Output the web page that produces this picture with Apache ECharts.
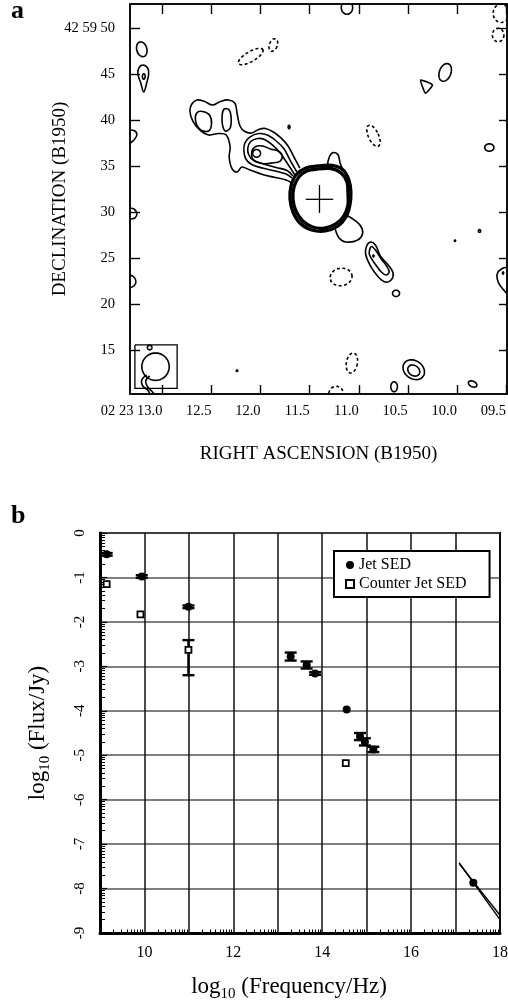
<!DOCTYPE html>
<html>
<head>
<meta charset="utf-8">
<script src="https://cdn.jsdelivr.net/npm/echarts@6.0.0/dist/echarts.min.js"></script>
<style>
  html, body { margin: 0; padding: 0; background: #fff; }
  #chart { width: 508px; height: 1005px; }
</style>
</head>
<body>
<div id="chart"></div>
<script>
  // ---- panel a : radio map, RA in seconds (02 23 xx), Dec in arcsec (42 59 xx)
  const raTicks = [13.0, 12.5, 12.0, 11.5, 11.0, 10.5, 10.0, 9.5];
  const decTicks = [15, 20, 25, 30, 35, 40, 45, 50];

  // closed contours [ra, dec]
  const teardrop = [[13.20, 46.01], [13.15, 45.68], [13.14, 45.03], [13.16, 44.05], [13.19, 43.07], [13.22, 44.05], [13.25, 45.03], [13.24, 45.68]];
  const triangle = [[10.37, 44.38], [10.25, 43.84], [10.32, 42.93]];
  const knotOuter = [[10.92, 26.34], [10.88, 26.77], [10.83, 26.45], [10.78, 25.25], [10.70, 24.27], [10.65, 23.40], [10.67, 22.64], [10.73, 22.42], [10.80, 22.97], [10.88, 24.16], [10.93, 25.47]];
  const knotInner = [[10.89, 25.90], [10.87, 26.28], [10.83, 25.90], [10.77, 24.92], [10.71, 24.05], [10.69, 23.51], [10.72, 23.19], [10.77, 23.51], [10.84, 24.49], [10.89, 25.36]];
  const leftBlob = [[12.65, 40.79], [12.59, 40.96], [12.52, 40.57], [12.50, 39.60], [12.53, 38.84], [12.61, 38.95], [12.66, 39.81]];
  const rightBlob = [[12.37, 41.23], [12.32, 41.12], [12.30, 40.25], [12.31, 39.16], [12.36, 38.84], [12.39, 39.60], [12.39, 40.68]];
  const jetKnot = [[12.09, 36.55], [12.05, 37.15], [11.98, 37.21], [11.90, 36.88], [11.82, 36.66], [11.78, 36.23], [11.80, 35.57], [11.88, 35.36], [11.98, 35.30], [12.07, 35.68]];
  const coreOuter = [[11.42, 35.03], [11.27, 35.09], [11.16, 34.60], [11.10, 33.51], [11.08, 32.21], [11.09, 30.79], [11.13, 29.49], [11.21, 28.51], [11.34, 27.97], [11.48, 28.08], [11.60, 28.84], [11.67, 30.03], [11.70, 31.44], [11.69, 32.86], [11.64, 34.05], [11.54, 34.81]];
  const coreInner = [[11.42, 34.71], [11.28, 34.76], [11.18, 34.27], [11.12, 33.29], [11.11, 32.10], [11.11, 30.79], [11.15, 29.65], [11.23, 28.78], [11.35, 28.29], [11.47, 28.40], [11.57, 29.05], [11.64, 30.14], [11.67, 31.44], [11.66, 32.75], [11.61, 33.84], [11.53, 34.49]];

  // open contours (ending on the core or on the map edge)
  const jetEnvelope = [[11.60, 34.81], [11.66, 36.01], [11.72, 37.21], [11.79, 38.07], [11.87, 38.73], [11.95, 39.11], [12.02, 39.00], [12.09, 38.62], [12.16, 38.78], [12.21, 39.38], [12.24, 40.79], [12.26, 41.82], [12.33, 42.21], [12.41, 42.04], [12.49, 41.66], [12.57, 42.04], [12.65, 42.21], [12.70, 41.77], [12.72, 41.01], [12.69, 39.92], [12.62, 38.95], [12.53, 38.40], [12.43, 38.56], [12.35, 38.40], [12.31, 37.10], [12.32, 36.01], [12.29, 34.71], [12.24, 34.38], [12.19, 34.92], [12.11, 34.60], [11.98, 34.11], [11.85, 33.78], [11.74, 33.51], [11.68, 33.18]];
  const jetMid = [[11.63, 34.38], [11.70, 35.68], [11.76, 36.88], [11.84, 37.75], [11.93, 38.40], [12.02, 38.56], [12.11, 38.18], [12.16, 37.53], [12.17, 36.66], [12.15, 35.79], [12.09, 35.19], [11.98, 34.81], [11.85, 34.49], [11.74, 34.16], [11.68, 33.73]];
  const jetIn = [[11.65, 34.05], [11.73, 35.36], [11.80, 36.44], [11.88, 37.32], [11.96, 37.91], [12.03, 38.02], [12.10, 37.69], [12.13, 36.99], [12.12, 36.23], [12.07, 35.63], [11.97, 35.25], [11.84, 34.87], [11.73, 34.54], [11.67, 33.94]];
  const coreBump = [[11.32, 35.03], [11.30, 36.01], [11.26, 36.50], [11.21, 36.23], [11.19, 35.36], [11.16, 34.60]];
  const coreLobe = [[11.11, 29.60], [11.03, 29.05], [10.98, 28.51], [10.96, 27.75], [11.01, 26.99], [11.13, 26.77], [11.20, 27.21], [11.24, 28.18]];
  const edgeLeft1 = [[13.34, 37.42], [13.29, 37.86], [13.26, 38.40], [13.28, 38.84], [13.34, 38.95]];
  const edgeLeft2 = [[13.34, 30.47], [13.29, 30.36], [13.26, 29.92], [13.28, 29.38], [13.34, 29.27]];
  const edgeLeft3 = [[13.34, 23.19], [13.29, 22.97], [13.27, 22.42], [13.29, 21.99], [13.34, 21.77]];
  const edgeRight = [[9.47, 24.05], [9.54, 23.89], [9.59, 23.29], [9.58, 22.42], [9.54, 21.77], [9.47, 20.90]];
  const swirl1 = [[13.16, 12.32], [13.21, 11.77], [13.20, 11.12], [13.15, 10.68], [13.12, 10.10]];
  const swirl2 = [[13.13, 12.21], [13.17, 11.66], [13.15, 11.01], [13.11, 10.57], [13.07, 10.10]];

  // beam box and core cross
  const beamBox = [[13.28, 15.58], [12.85, 15.58], [12.85, 10.87], [13.28, 10.87], [13.28, 15.58]];
  const crossH = [[11.54, 31.41], [11.26, 31.41]];
  const crossV = [[11.40, 32.97], [11.40, 29.92]];

  // small blobs: [ra, dec, x radius ("), y radius ("), tilt (deg)]
  const ovalsSolid = [
    [13.21, 47.72, 0.55, 0.82, 15], [13.19, 44.76, 0.15, 0.30, 0], [11.12, 52.25, 0.62, 0.72, 0],
    [10.12, 45.20, 0.63, 1.00, -20], [9.67, 37.04, 0.50, 0.40, 0], [11.71, 39.27, 0.10, 0.18, 0],
    [12.04, 36.41, 0.42, 0.42, 0], [10.85, 25.25, 0.06, 0.10, 0], [10.62, 21.19, 0.38, 0.34, 0],
    [10.44, 12.89, 1.25, 0.98, -35], [10.44, 12.80, 0.70, 0.55, -35], [10.64, 11.04, 0.36, 0.54, 0],
    [9.84, 11.34, 0.49, 0.30, -25], [13.07, 13.22, 1.49, 1.49, 0], [13.13, 15.30, 0.25, 0.25, 0],
    [12.24, 12.78, 0.08, 0.08, 0], [9.53, 23.40, 0.06, 0.12, 0], [10.02, 26.91, 0.07, 0.07, 0],
    [9.77, 27.97, 0.12, 0.15, 0]
  ];
  const ovalsDashed = [
    [12.10, 46.93, 1.52, 0.54, 30], [11.87, 48.18, 0.43, 0.71, -20], [9.55, 51.63, 0.87, 1.00, 0],
    [9.58, 49.27, 0.63, 0.73, 0], [10.85, 38.31, 0.55, 1.25, 25], [11.18, 22.97, 1.20, 0.95, 10],
    [11.07, 13.62, 0.60, 1.10, -10], [11.23, 10.14, 0.82, 0.95, 0]
  ];

  // ---- panel b : SED, log10 frequency (Hz) vs log10 flux (Jy)
  const jetX = [9.15, 9.94, 10.99, 13.29, 13.65, 13.84, 14.55, 14.85, 14.96, 15.15, 17.40];
  const jetY = [-0.48, -0.98, -1.66, -2.78, -2.97, -3.16, -3.97, -4.58, -4.70, -4.87, -7.87];
  const jetLow = [-0.51, -1.01, -1.69, -2.87, -3.05, -3.19, -3.97, -4.66, -4.78, -4.93, -7.87];
  const jetHigh = [-0.45, -0.95, -1.63, -2.69, -2.89, -3.13, -3.97, -4.50, -4.62, -4.81, -7.87];
  const cjX = [9.15, 9.91, 10.99, 14.53];
  const cjY = [-1.15, -1.83, -2.63, -5.18];
  const cjLow = [-1.15, -1.83, -3.20, -5.18];
  const cjHigh = [-1.15, -1.83, -2.41, -5.18];
  const xrayUpper = [[17.08, -7.42], [18.0, -8.70]];
  const xrayLower = [[17.09, -7.45], [18.0, -8.60]];
  const freqDecades = [9, 10, 11, 12, 13, 14, 15, 16, 17];
  const fluxDecades = [-9, -8, -7, -6, -5, -4, -3, -2, -1];
  const logFrac = [0.301, 0.477, 0.602, 0.699, 0.778, 0.845, 0.903, 0.954];

  const FONT = '"Liberation Serif", "Times New Roman", serif';
  const chart = echarts.init(document.getElementById('chart'), null, { renderer: 'canvas' });

  function contourSeries(list, closed, dashed, width, smooth) {
    return {
      type: 'custom', xAxisIndex: 0, yAxisIndex: 0, clip: true, silent: true, animation: false,
      data: list.map(c => c[0]),
      renderItem: (params, api) => ({
        type: closed ? 'polygon' : 'polyline',
        shape: { points: list[params.dataIndex].map(p => api.coord(p)), smooth: smooth == null ? 0.35 : smooth },
        style: { fill: 'none', stroke: '#000', lineWidth: width || 1.6, lineDash: dashed ? [3, 2.5] : null }
      })
    };
  }

  function ovalSeries(list, dashed) {
    return {
      type: 'custom', xAxisIndex: 0, yAxisIndex: 0, clip: true, silent: true, animation: false,
      data: list.map(o => [o[0], o[1]]),
      renderItem: (params, api) => {
        const o = list[params.dataIndex];
        const c = api.coord([o[0], o[1]]);
        const s = api.size([0, 1])[1];
        const rx = o[2] * s, ry = o[3] * s, t = o[4] * Math.PI / 180;
        const pts = [];
        for (let k = 0; k < 40; k++) {
          const a = k / 40 * Math.PI * 2;
          const x = rx * Math.cos(a), y = ry * Math.sin(a);
          pts.push([c[0] + x * Math.cos(t) + y * Math.sin(t), c[1] - x * Math.sin(t) + y * Math.cos(t)]);
        }
        return {
          type: 'polygon', shape: { points: pts },
          style: { fill: 'none', stroke: '#000', lineWidth: 1.6, lineDash: dashed ? [3, 2.5] : null }
        };
      }
    };
  }

  function errorBars(xs, lows, highs) {
    return {
      type: 'custom', xAxisIndex: 2, yAxisIndex: 2, silent: true, animation: false, z: 3,
      encode: { x: 0, y: [1, 2] },
      data: xs.map((x, i) => [x, lows[i], highs[i]]),
      renderItem: (params, api) => {
        if (api.value(1) === api.value(2)) return null;
        const lo = api.coord([api.value(0), api.value(1)]);
        const hi = api.coord([api.value(0), api.value(2)]);
        const w = 6;
        const st = { stroke: '#000', lineWidth: 2.4 };
        return {
          type: 'group',
          children: [
            { type: 'line', shape: { x1: lo[0], y1: lo[1], x2: hi[0], y2: hi[1] }, style: st },
            { type: 'line', shape: { x1: lo[0] - w, y1: lo[1], x2: lo[0] + w, y2: lo[1] }, style: st },
            { type: 'line', shape: { x1: hi[0] - w, y1: hi[1], x2: hi[0] + w, y2: hi[1] }, style: st }
          ]
        };
      }
    };
  }

  const minorX = freqDecades.flatMap(d => logFrac.map(f => d + f));
  const minorY = fluxDecades.flatMap(d => logFrac.map(f => d + f));

  chart.setOption({
    animation: false,
    backgroundColor: '#fff',
    textStyle: { fontFamily: FONT },
    graphic: [
      { type: 'text', left: 11, top: -2, style: { text: 'a', font: 'bold 26px ' + FONT, fill: '#000' } },
      { type: 'text', left: 11, top: 503, style: { text: 'b', font: 'bold 26px ' + FONT, fill: '#000' } }
    ],
    grid: [
      { left: 130, top: 4, width: 377, height: 390, show: true, borderColor: '#000', borderWidth: 1.5, containLabel: false, outerBoundsMode: 'none' },
      { left: 100, top: 533, width: 400, height: 400, show: true, borderColor: '#000', borderWidth: 2, containLabel: false, outerBoundsMode: 'none' }
    ],
    legend: {
      left: 334, top: 551, orient: 'vertical',
      data: [{ name: 'Jet SED', icon: 'circle' }, { name: 'Counter Jet SED', icon: 'rect' }],
      itemWidth: 8, itemHeight: 8, itemGap: 3,
      padding: [6, 23, 5, 11],
      borderColor: '#000', borderWidth: 2, backgroundColor: '#fff',
      textStyle: { fontFamily: FONT, fontSize: 16, color: '#000', lineHeight: 16 }
    },
    xAxis: [
      {
        gridIndex: 0, type: 'value', min: 9.49, max: 13.33, inverse: true, position: 'bottom',
        name: 'RIGHT ASCENSION (B1950)', nameLocation: 'middle', nameGap: 51, nameMoveOverlap: false,
        nameTextStyle: { fontFamily: FONT, fontSize: 19, color: '#000' },
        axisLine: { show: true, onZero: false, lineStyle: { color: '#000', width: 1.5 } },
        axisTick: { show: true, inside: true, length: 9, customValues: raTicks, lineStyle: { color: '#000', width: 1.4 } },
        axisLabel: {
          customValues: raTicks, align: 'right', margin: 10, fontFamily: FONT, fontSize: 14.5, color: '#000',
          formatter: v => (Math.abs(v - 13) < 1e-6 ? '02 23 13.0' : (v < 10 ? '0' : '') + v.toFixed(1))
        },
        splitLine: { show: false }
      },
      {
        gridIndex: 0, type: 'value', min: 9.49, max: 13.33, inverse: true, position: 'top',
        axisLine: { show: true, onZero: false, lineStyle: { color: '#000', width: 1.5 } },
        axisTick: { show: true, inside: true, length: 10, customValues: raTicks, lineStyle: { color: '#000', width: 1.4 } },
        axisLabel: { show: false },
        splitLine: { show: false }
      },
      {
        gridIndex: 1, type: 'value', min: 9, max: 18, interval: 1, position: 'bottom',
        name: '{a|log}{s|10}{a| (Frequency/Hz)}', nameLocation: 'middle', nameGap: 39, nameMoveOverlap: false,
        nameTextStyle: {
          padding: [0, 22, 0, 0],
          rich: {
            a: { fontFamily: FONT, fontSize: 23, color: '#000', lineHeight: 30 },
            s: { fontFamily: FONT, fontSize: 15, color: '#000', lineHeight: 30, verticalAlign: 'bottom' }
          }
        },
        axisLine: { show: true, onZero: false, lineStyle: { color: '#000', width: 3 } },
        axisTick: { show: false },
        axisLabel: { margin: 12, fontFamily: FONT, fontSize: 16, color: '#000', formatter: v => (v % 2 === 0 ? String(v) : '') },
        splitLine: { show: true, lineStyle: { color: '#111', width: 1.5 } }
      },
      {
        gridIndex: 1, type: 'value', min: 9, max: 18, position: 'bottom',
        axisLine: { show: false, onZero: false },
        axisTick: { show: true, inside: true, length: 3.5, customValues: minorX, lineStyle: { color: '#000', width: 1 } },
        axisLabel: { show: false },
        splitLine: { show: false }
      }
    ],
    yAxis: [
      {
        gridIndex: 0, type: 'value', min: 10.25, max: 52.64, position: 'left',
        name: 'DECLINATION (B1950)', nameLocation: 'middle', nameGap: 60, nameMoveOverlap: false,
        nameTextStyle: { fontFamily: FONT, fontSize: 19, color: '#000' },
        axisLine: { show: true, onZero: false, lineStyle: { color: '#000', width: 1.5 } },
        axisTick: { show: true, inside: true, length: 10, customValues: decTicks, lineStyle: { color: '#000', width: 1.4 } },
        axisLabel: {
          customValues: decTicks, margin: 15, fontFamily: FONT, fontSize: 14.5, color: '#000',
          formatter: v => (v === 50 ? '42 59 50' : String(v))
        },
        splitLine: { show: false }
      },
      {
        gridIndex: 0, type: 'value', min: 10.25, max: 52.64, position: 'right',
        axisLine: { show: true, onZero: false, lineStyle: { color: '#000', width: 1.5 } },
        axisTick: { show: true, inside: true, length: 8, customValues: decTicks, lineStyle: { color: '#000', width: 1.4 } },
        axisLabel: { show: false },
        splitLine: { show: false }
      },
      {
        gridIndex: 1, type: 'value', min: -9, max: 0, interval: 1, position: 'left',
        name: '{a|log}{s|10}{a| (Flux/Jy)}', nameLocation: 'middle', nameGap: 47, nameMoveOverlap: false,
        nameTextStyle: {
          rich: {
            a: { fontFamily: FONT, fontSize: 23, color: '#000', lineHeight: 30 },
            s: { fontFamily: FONT, fontSize: 15, color: '#000', lineHeight: 30, verticalAlign: 'bottom' }
          }
        },
        axisLine: { show: true, onZero: false, lineStyle: { color: '#000', width: 3 } },
        axisTick: { show: true, inside: true, length: 7, lineStyle: { color: '#000', width: 1.2 } },
        axisLabel: { rotate: 90, margin: 12, fontFamily: FONT, fontSize: 15, color: '#000' },
        splitLine: { show: true, lineStyle: { color: '#555', width: 1.5 } }
      },
      {
        gridIndex: 1, type: 'value', min: -9, max: 0, position: 'left',
        axisLine: { show: false, onZero: false },
        axisTick: { show: true, inside: true, length: 5, customValues: minorY, lineStyle: { color: '#000', width: 1 } },
        axisLabel: { show: false },
        splitLine: { show: false }
      }
    ],
    series: [
      contourSeries([teardrop, knotOuter, knotInner, leftBlob, rightBlob, jetKnot], true, false),
      contourSeries([triangle], true, false, 1.6, 0.15),
      contourSeries([coreOuter, coreInner], true, false, 3.3, 0.3),
      contourSeries([jetEnvelope, jetMid, jetIn, coreBump, coreLobe, edgeLeft1, edgeLeft2, edgeLeft3, edgeRight, swirl1, swirl2], false, false),
      contourSeries([beamBox, crossH, crossV], false, false, 1.3, 0),
      ovalSeries(ovalsSolid, false),
      ovalSeries(ovalsDashed, true),

      errorBars(jetX, jetLow, jetHigh),
      errorBars(cjX, cjLow, cjHigh),
      {
        type: 'line', xAxisIndex: 2, yAxisIndex: 2, data: xrayUpper, symbol: 'none',
        lineStyle: { color: '#000', width: 1.4 }, silent: true, z: 3
      },
      {
        type: 'line', xAxisIndex: 2, yAxisIndex: 2, data: xrayLower, symbol: 'none',
        lineStyle: { color: '#000', width: 1.4 }, silent: true, z: 3
      },
      {
        name: 'Jet SED', type: 'scatter', xAxisIndex: 2, yAxisIndex: 2, z: 4,
        data: jetX.map((x, i) => [x, jetY[i]]),
        symbol: 'circle', symbolSize: 8, itemStyle: { color: '#000', opacity: 1 }
      },
      {
        name: 'Counter Jet SED', type: 'scatter', xAxisIndex: 2, yAxisIndex: 2, z: 4,
        data: cjX.map((x, i) => [x, cjY[i]]),
        symbol: 'rect', symbolSize: 6, itemStyle: { color: '#fff', borderColor: '#000', borderWidth: 1.8, opacity: 1 }
      }
    ]
  });
</script>
</body>
</html>
